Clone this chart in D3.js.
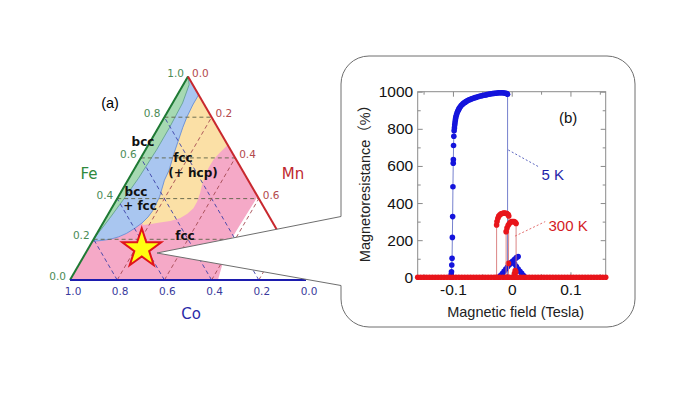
<!DOCTYPE html>
<html>
<head>
<meta charset="utf-8">
<script src="https://cdn.jsdelivr.net/npm/d3@7"></script>
<style>
  body { margin: 0; background: #fff; }
</style>
</head>
<body>
<div id="chart"></div>
<script>
// ---- (a) ternary diagram, fractions are [Fe, Mn] ----
const gridVals = [0.2, 0.4, 0.6, 0.8];
const feTicks = [0.0, 0.2, 0.4, 0.6, 0.8, 1.0];
const mnTicks = [0.0, 0.2, 0.4, 0.6];
const coTicks = [1.0, 0.8, 0.6, 0.4, 0.2, 0.0];

const fccRegion = [[0, 0], [1, 0], [0.41, 0.59], [0.31, 0.586], [0.205, 0.583], [0.082, 0.606], [0, 0.627]];
const hcpRegion = [[0.91, 0.09], [0.663, 0.337], [0.625, 0.322], [0.59, 0.312], [0.55, 0.312], [0.508, 0.318],
  [0.466, 0.326], [0.426, 0.338], [0.385, 0.346], [0.352, 0.347], [0.325, 0.335], [0.303, 0.314],
  [0.29, 0.28], [0.282, 0.24], [0.275, 0.205], [0.27, 0.176], [0.28, 0.165], [0.31, 0.176], [0.34, 0.18],
  [0.41, 0.175], [0.49, 0.155], [0.54, 0.15], [0.62, 0.13], [0.75, 0.103], [0.8, 0.095], [0.86, 0.09]];
const bccFccRegion = [[0.19, 0], [1, 0], [0.91, 0.09], [0.86, 0.09], [0.8, 0.095], [0.75, 0.103], [0.62, 0.13],
  [0.54, 0.15], [0.49, 0.155], [0.41, 0.175], [0.34, 0.18], [0.31, 0.176], [0.28, 0.165], [0.255, 0.148],
  [0.229, 0.125], [0.212, 0.1], [0.2, 0.07], [0.194, 0.035]];
const bccRegion = [[0.2, 0], [1, 0], [0.96, 0.025], [0.87, 0.042], [0.75, 0.047], [0.64, 0.047], [0.5, 0.04],
  [0.39, 0.028], [0.3, 0.016], [0.24, 0.006]];
const sample = [0.154, 0.227];

// ---- (b) magnetoresistance vs field ----
const xTicks = [-0.1, 0, 0.1];
const xMinor = [-0.15, -0.05, 0.05, 0.15];
const yTicks = [0, 200, 400, 600, 800, 1000];
const yMinor = [100, 300, 500, 700, 900];

const baseField = [-0.16, -0.155, -0.15, -0.145, -0.14, -0.135, -0.13, -0.125, -0.12, -0.115, -0.11, -0.105,
  -0.1, -0.095, -0.09, -0.085, -0.08, -0.075, -0.07, -0.065, -0.06, -0.055, -0.05, -0.045, -0.04, -0.035,
  -0.03, -0.025, -0.02, -0.015, -0.01, -0.005, 0, 0.005, 0.01, 0.015, 0.02, 0.025, 0.03, 0.035, 0.04, 0.045,
  0.05, 0.055, 0.06, 0.065, 0.07, 0.075, 0.08, 0.085, 0.09, 0.095, 0.1, 0.105, 0.11, 0.115, 0.12, 0.125,
  0.13, 0.135, 0.14, 0.145, 0.15, 0.155, 0.16];

const rise5K = [[-0.104, 0], [-0.103, 15], [-0.1025, 30], [-0.102, 66], [-0.1015, 102], [-0.101, 215],
  [-0.1005, 327], [-0.1, 488], [-0.0995, 615], [-0.0993, 635], [-0.099, 710], [-0.0985, 760], [-0.098, 790],
  [-0.0975, 805], [-0.097, 820], [-0.0965, 833], [-0.096, 845], [-0.0955, 855], [-0.095, 865], [-0.094, 875],
  [-0.093, 885], [-0.092, 893], [-0.091, 900], [-0.09, 906], [-0.089, 912], [-0.0875, 919], [-0.086, 925],
  [-0.0845, 930], [-0.083, 935], [-0.0815, 939], [-0.08, 942], [-0.0785, 945], [-0.077, 948], [-0.075, 952],
  [-0.073, 955], [-0.071, 958], [-0.069, 960], [-0.067, 963], [-0.065, 965], [-0.0625, 968], [-0.06, 970],
  [-0.0575, 973], [-0.055, 975], [-0.0525, 977], [-0.05, 979], [-0.0475, 981], [-0.045, 982], [-0.0425, 984],
  [-0.04, 986], [-0.0375, 988], [-0.035, 989], [-0.0325, 990], [-0.03, 991], [-0.0275, 992], [-0.025, 993],
  [-0.0225, 994], [-0.02, 994], [-0.0175, 994], [-0.015, 994], [-0.0125, 993], [-0.01, 992], [-0.0085, 990],
  [-0.007, 986], [-0.007, 0]];
const up5K = [[-0.022, 0], [-0.019, 10], [-0.016, 20], [-0.013, 32], [-0.01, 45], [-0.007, 57], [-0.004, 68],
  [-0.001, 79], [0.002, 88], [0.005, 97], [0.008, 106], [0.011, 112]];
const down5K = [[0.002, 85], [0.005, 72], [0.008, 58], [0.011, 45], [0.014, 33], [0.017, 21], [0.02, 10], [0.023, 0]];

const arcA300K = [[-0.0257, 0], [-0.0257, 282], [-0.025, 300], [-0.0235, 318], [-0.022, 330], [-0.02, 337],
  [-0.018, 342], [-0.016, 344], [-0.014, 346], [-0.012, 346], [-0.01, 345], [-0.008, 343], [-0.006, 338],
  [-0.005, 330], [-0.0055, 75], [-0.0055, 0]];
const arcB300K = [[-0.0095, 0], [-0.0095, 246], [-0.008, 265], [-0.006, 280], [-0.004, 290], [-0.002, 296],
  [0, 300], [0.002, 301], [0.004, 300], [0.006, 296], [0.0075, 290], [0.0075, 0]];
const bump300K = [[0.004, 0], [0.005, 22], [0.006, 36], [0.007, 28], [0.008, 0]];

// leader lines in data units: [field, MR]
const lead5K = [[-0.0058, 686], [0.0456, 596]];
const lead300K = [[0.0057, 222], [0.057, 300]];

const W = 700, H = 394;
const svg = d3.select('#chart').append('svg')
  .attr('width', W).attr('height', H)
  .style('background', '#fff');

// ===== (a) =====
const triX = d3.scaleLinear().domain([0, 1]).range([70, 306]);
const triY = d3.scaleLinear().domain([0, 1]).range([280, 76.5]);
const tern = (fe, mn) => [triX(mn + fe / 2), triY(fe)];
const poly = d3.line().x(d => tern(d[0], d[1])[0]).y(d => tern(d[0], d[1])[1]).curve(d3.curveLinearClosed);

const ga = svg.append('g');
ga.append('path').attr('d', poly(fccRegion)).attr('fill', '#f5a9c7');
ga.append('path').attr('d', poly(hcpRegion)).attr('fill', '#fbe0a6');
ga.append('path').attr('d', poly(bccFccRegion)).attr('fill', '#a9c6f0')
  .attr('stroke', '#5a8ad6').attr('stroke-width', 0.8);
ga.append('path').attr('d', poly(bccRegion)).attr('fill', '#a6d9b2')
  .attr('stroke', '#5c9c8a').attr('stroke-width', 0.8);

// dashed grid
const seg = (a, b) => 'M' + tern(a[0], a[1]) + 'L' + tern(b[0], b[1]);
gridVals.forEach(v => {
  ga.append('path').attr('d', seg([v, 0], [v, 1 - v]))
    .attr('stroke', '#5d6348').attr('stroke-width', 0.9).attr('stroke-dasharray', '4,3').attr('fill', 'none');
  ga.append('path').attr('d', seg([0, 1 - v], [1 - v, 0]))
    .attr('stroke', '#3b3fa6').attr('stroke-width', 0.9).attr('stroke-dasharray', '4,3').attr('fill', 'none');
  ga.append('path').attr('d', seg([0, v], [1 - v, v]))
    .attr('stroke', '#a54a52').attr('stroke-width', 0.9).attr('stroke-dasharray', '4,3').attr('fill', 'none');
});

// edges
ga.append('path').attr('d', seg([0, 0], [1, 0])).attr('stroke', '#1f7a34').attr('stroke-width', 2);
ga.append('path').attr('d', seg([1, 0], [0, 1])).attr('stroke', '#c8282e').attr('stroke-width', 2);
ga.append('path').attr('d', seg([0, 0], [0, 1])).attr('stroke', '#1c1cae').attr('stroke-width', 2);

// tick labels
const tickFont = '"DejaVu Sans", sans-serif';
feTicks.forEach(v => {
  const p = tern(v, 0);
  ga.append('text').attr('x', p[0] - 4).attr('y', p[1]).attr('text-anchor', 'end')
    .attr('font-family', tickFont).attr('font-size', 10.5).attr('fill', '#4b8b55').text(v.toFixed(1));
});
mnTicks.forEach(v => {
  const p = tern(1 - v, v);
  ga.append('text').attr('x', p[0] + 4).attr('y', p[1]).attr('text-anchor', 'start')
    .attr('font-family', tickFont).attr('font-size', 10.5).attr('fill', '#b3494c').text(v.toFixed(1));
});
coTicks.forEach(v => {
  const p = tern(0, 1 - v);
  ga.append('text').attr('x', p[0] + 3).attr('y', p[1] + 15).attr('text-anchor', 'middle')
    .attr('font-family', tickFont).attr('font-size', 10.5).attr('fill', '#3a3a9c').text(v.toFixed(1));
});

ga.append('text').attr('x', 89).attr('y', 179).attr('text-anchor', 'middle')
  .attr('font-family', tickFont).attr('font-size', 15).attr('fill', '#2f8a3c').text('Fe');
ga.append('text').attr('x', 293).attr('y', 179).attr('text-anchor', 'middle')
  .attr('font-family', tickFont).attr('font-size', 15).attr('fill', '#c0282e').text('Mn');
ga.append('text').attr('x', 191).attr('y', 319).attr('text-anchor', 'middle')
  .attr('font-family', tickFont).attr('font-size', 15).attr('fill', '#2a2aa8').text('Co');
ga.append('text').attr('x', 110).attr('y', 108).attr('text-anchor', 'middle')
  .attr('font-family', '"Liberation Sans", Arial, sans-serif').attr('font-size', 14.5).text('(a)');

const phaseLabels = [
  ['bcc', 143, 146], ['fcc', 183, 162], ['(+ hcp)', 193, 177],
  ['bcc', 136, 196], ['+ fcc', 140, 210], ['fcc', 185, 240]
];
phaseLabels.forEach(d => {
  ga.append('text').attr('x', d[1]).attr('y', d[2]).attr('text-anchor', 'middle')
    .attr('font-family', tickFont).attr('font-weight', 'bold').attr('font-size', 12)
    .attr('fill', '#111').text(d[0]);
});

// ===== callout box =====
const bx0 = 341, bx1 = 635, by0 = 56, by1 = 327, rr = 28;
const tip = [157, 253];
const call = d3.path();
call.moveTo(bx0, 216.5);
call.lineTo(tip[0], tip[1]);
call.lineTo(bx0, 285.5);
call.lineTo(bx0, by1 - rr);
call.arcTo(bx0, by1, bx0 + rr, by1, rr);
call.lineTo(bx1 - rr, by1);
call.arcTo(bx1, by1, bx1, by1 - rr, rr);
call.lineTo(bx1, by0 + rr);
call.arcTo(bx1, by0, bx1 - rr, by0, rr);
call.lineTo(bx0 + rr, by0);
call.arcTo(bx0, by0, bx0, by0 + rr, rr);
call.closePath();
svg.append('path').attr('d', call.toString()).attr('fill', '#fff')
  .attr('stroke', '#6e6e6e').attr('stroke-width', 1);

// sample star
const sp = tern(sample[0], sample[1]);
svg.append('path').attr('d', d3.symbol().type(d3.symbolStar).size(470)())
  .attr('transform', `translate(${sp[0]},${sp[1]})`)
  .attr('fill', '#ffff10').attr('stroke', '#e0141a').attr('stroke-width', 2).attr('stroke-linejoin', 'miter');

// ===== (b) =====
const x = d3.scaleLinear().domain([-0.16, 0.16]).range([417.7, 605.7]);
const y = d3.scaleLinear().domain([0, 1000]).range([277.3, 91.7]);
const gb = svg.append('g');
const axFont = '"Liberation Sans", Arial, sans-serif';

function drawAxis(axis, tx, ty, labels) {
  const g = gb.append('g').attr('transform', `translate(${tx},${ty})`).call(axis);
  g.select('.domain').remove();
  g.selectAll('.tick line').attr('stroke', '#8a8a8a');
  if (!labels) g.selectAll('.tick text').remove();
  else g.selectAll('.tick text').attr('font-size', 15.5).attr('fill', '#111').attr('font-family', axFont);
  return g;
}
const fmtX = d => (d === 0 ? '0' : String(d));
drawAxis(d3.axisBottom(x).tickValues(xTicks).tickSize(-5).tickPadding(7).tickFormat(fmtX), 0, y(0), true);
drawAxis(d3.axisBottom(x).tickValues(xMinor).tickSize(-3), 0, y(0), false);
drawAxis(d3.axisTop(x).tickValues(xTicks).tickSize(-5), 0, y(1000), false);
drawAxis(d3.axisTop(x).tickValues(xMinor).tickSize(-3), 0, y(1000), false);
drawAxis(d3.axisLeft(y).tickValues(yTicks).tickSize(-5).tickPadding(4.5).tickFormat(d3.format('d')), x(-0.16), 0, true);
drawAxis(d3.axisLeft(y).tickValues(yMinor).tickSize(-3), x(-0.16), 0, false);
drawAxis(d3.axisRight(y).tickValues(yTicks).tickSize(-5), x(0.16), 0, false);
drawAxis(d3.axisRight(y).tickValues(yMinor).tickSize(-3), x(0.16), 0, false);

gb.append('rect').attr('x', x(-0.16)).attr('y', y(1000))
  .attr('width', x(0.16) - x(-0.16)).attr('height', y(0) - y(1000))
  .attr('fill', 'none').attr('stroke', '#8a8a8a').attr('stroke-width', 1);

const line = d3.line().x(d => x(d[0])).y(d => y(d[1]));
const blue = '#1414dc', red = '#e8151b';

function series(pts, color, lineColor) {
  gb.append('path').attr('d', line(pts)).attr('fill', 'none')
    .attr('stroke', lineColor).attr('stroke-width', 0.9);
  gb.append('g').selectAll('circle').data(pts).enter().append('circle')
    .attr('cx', d => x(d[0])).attr('cy', d => y(d[1])).attr('r', 2.8).attr('fill', color);
}
series(rise5K, blue, '#6673c8');
series(up5K, blue, '#6673c8');
series(down5K, blue, '#6673c8');
series(baseField.map(f => [f, 0]), red, '#d86a6a');
series(arcA300K, red, '#d87878');
series(arcB300K, red, '#d87878');
series(bump300K, red, '#d87878');

// annotations
gb.append('path').attr('d', line(lead5K)).attr('stroke', '#4a55b8').attr('stroke-width', 0.9)
  .attr('stroke-dasharray', '2,2').attr('fill', 'none');
gb.append('path').attr('d', line(lead300K)).attr('stroke', '#e06060').attr('stroke-width', 0.9)
  .attr('stroke-dasharray', '2,2').attr('fill', 'none');
gb.append('text').attr('x', x(0.0697)).attr('y', y(555)).attr('dy', '0.35em').attr('text-anchor', 'middle')
  .attr('font-family', axFont).attr('font-size', 15).attr('fill', '#1e1ea8').text('5 K');
gb.append('text').attr('x', x(0.096)).attr('y', y(278)).attr('dy', '0.35em').attr('text-anchor', 'middle')
  .attr('font-family', axFont).attr('font-size', 15).attr('fill', '#d41a1f').text('300 K');
gb.append('text').attr('x', x(0.096)).attr('y', y(857)).attr('dy', '0.35em').attr('text-anchor', 'middle')
  .attr('font-family', axFont).attr('font-size', 15).attr('fill', '#111').text('(b)');

gb.append('text').attr('x', 515.7).attr('y', 317).attr('text-anchor', 'middle')
  .attr('font-family', axFont).attr('font-size', 14.5).attr('fill', '#222').text('Magnetic field (Tesla)');
gb.append('text').attr('transform', 'translate(370,180) rotate(-90)').attr('text-anchor', 'middle')
  .attr('font-family', axFont + ', "Noto Sans CJK JP"').attr('font-size', 14.5).attr('fill', '#222')
  .text('Magnetoresistance（%）');
</script>
</body>
</html>
